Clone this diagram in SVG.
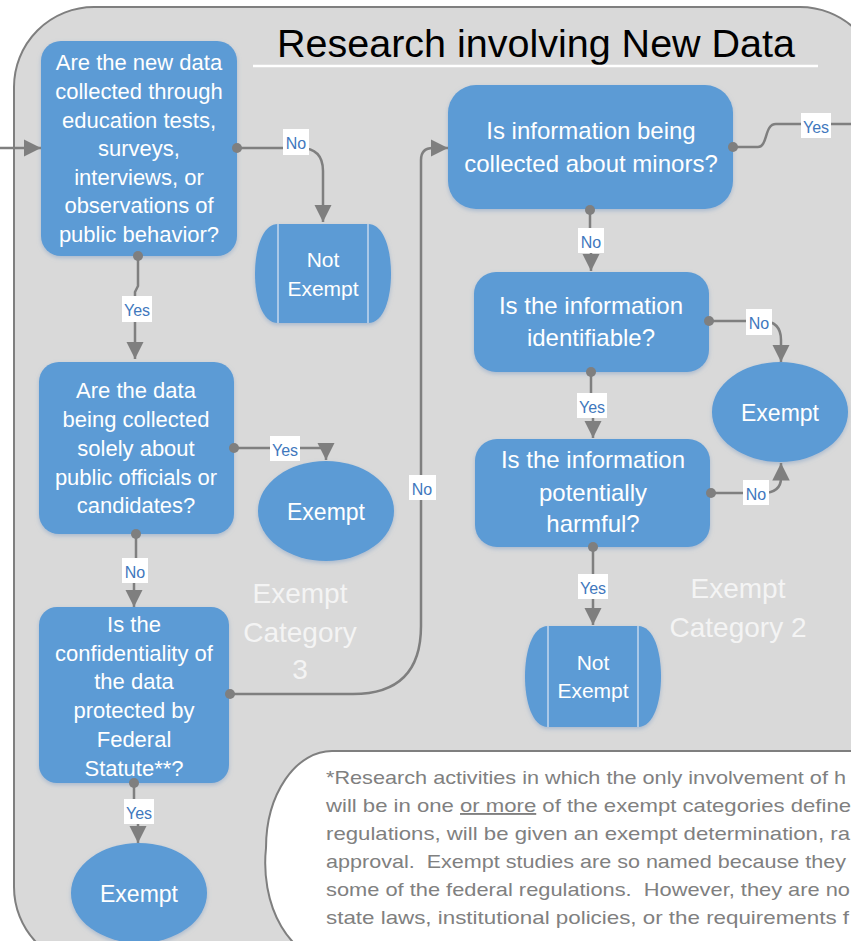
<svg xmlns="http://www.w3.org/2000/svg" width="851" height="941" viewBox="0 0 851 941">
<style>
.node{fill:#5b9bd5;filter:url(#sh)}
.nt{font-family:"Liberation Sans",Arial,sans-serif;fill:#fff;text-anchor:middle}
.conn{fill:none;stroke:#7f7f7f;stroke-width:2.5;marker-end:url(#ah)}
.dot{fill:#7f7f7f}
.lb{fill:#fff}
.lt{font-family:"Liberation Sans",Arial,sans-serif;font-size:16px;fill:#3f78bd;text-anchor:middle}
.cat{font-family:"Liberation Sans",Arial,sans-serif;font-size:28px;fill:#f4f4f4;text-anchor:middle}
.note{font-family:"Liberation Sans",Arial,sans-serif;font-size:19px;fill:#808080}
.vl{stroke:#c5d7ec;stroke-width:1.5}
</style>
<defs>
<marker id="ah" viewBox="0 0 10 10" refX="10" refY="5" markerWidth="7" markerHeight="7" markerUnits="strokeWidth" orient="auto">
<path d="M0,0 L10,5 L0,10 Z" fill="#7f7f7f"/>
</marker>
<filter id="sh" x="-10%" y="-10%" width="120%" height="125%">
<feDropShadow dx="0" dy="2" stdDeviation="2" flood-color="#8aa6c8" flood-opacity="0.6"/>
</filter>
</defs>
<rect width="851" height="941" fill="#fff"/>
<g id="container">
<rect x="14" y="7" width="866" height="960" rx="80" ry="80" fill="#d9d9d9" stroke="#7f7f7f" stroke-width="2"/>
<text x="277" y="57" font-family="Liberation Sans,Arial,sans-serif" font-size="38" fill="#000" textLength="518" lengthAdjust="spacingAndGlyphs">Research involving New Data</text>
<line x1="253" y1="66" x2="818" y2="66" stroke="#fff" stroke-width="2.5"/>
</g>
<g id="q-new-data">
<rect class="node" x="41" y="41" width="196" height="215" rx="20"/>
<text class="nt" font-size="22" x="139"><tspan x="139" y="70">Are the new data</tspan><tspan x="139" y="99">collected through</tspan><tspan x="139" y="128">education tests,</tspan><tspan x="139" y="156">surveys,</tspan><tspan x="139" y="185">interviews, or</tspan><tspan x="139" y="213">observations of</tspan><tspan x="139" y="242">public behavior?</tspan></text>
</g>
<g id="not-exempt-1">
<path class="node" d="M278,224 H368 C384,224 391,250 391,273.5 C391,298 384,323 368,323 H278 C262,323 255,298 255,273.5 C255,250 262,224 278,224 Z"/>
<line class="vl" x1="278" y1="224" x2="278" y2="323"/><line class="vl" x1="368" y1="224" x2="368" y2="323"/>
<text class="nt" font-size="21"><tspan x="323" y="267">Not</tspan><tspan x="323" y="296">Exempt</tspan></text>
</g>
<g id="q-public-officials">
<rect class="node" x="39" y="362" width="195" height="172" rx="20"/>
<text class="nt" font-size="22"><tspan x="136" y="398">Are the data</tspan><tspan x="136" y="427">being collected</tspan><tspan x="136" y="456">solely about</tspan><tspan x="136" y="485">public officials or</tspan><tspan x="136" y="513">candidates?</tspan></text>
</g>
<g id="exempt-1">
<ellipse class="node" cx="326" cy="511" rx="68" ry="50"/>
<text class="nt" font-size="23" x="326" y="520">Exempt</text>
</g>
<g id="cat3">
<text class="cat"><tspan x="300" y="603">Exempt</tspan><tspan x="300" y="642">Category</tspan><tspan x="300" y="679">3</tspan></text>
</g>
<g id="q-confidentiality">
<rect class="node" x="39" y="607" width="190" height="176" rx="18"/>
<text class="nt" font-size="22"><tspan x="134" y="632">Is the</tspan><tspan x="134" y="661">confidentiality of</tspan><tspan x="134" y="689">the data</tspan><tspan x="134" y="718">protected by</tspan><tspan x="134" y="747">Federal</tspan><tspan x="134" y="776">Statute**?</tspan></text>
</g>
<g id="exempt-3">
<ellipse class="node" cx="139" cy="893" rx="68" ry="50"/>
<text class="nt" font-size="23" x="139" y="902">Exempt</text>
</g>
<g id="q-minors">
<rect class="node" x="448" y="85" width="285" height="124" rx="28"/>
<text class="nt" font-size="24"><tspan x="591" y="139">Is information being</tspan><tspan x="591" y="172">collected about minors?</tspan></text>
</g>
<g id="q-identifiable">
<rect class="node" x="474" y="272" width="235" height="100" rx="22"/>
<text class="nt" font-size="24"><tspan x="591" y="314">Is the information</tspan><tspan x="591" y="346">identifiable?</tspan></text>
</g>
<g id="exempt-2">
<ellipse class="node" cx="780" cy="412" rx="68" ry="50"/>
<text class="nt" font-size="23" x="780" y="421">Exempt</text>
</g>
<g id="q-harmful">
<rect class="node" x="475" y="439" width="235" height="108" rx="22"/>
<text class="nt" font-size="24"><tspan x="593" y="468">Is the information</tspan><tspan x="593" y="501">potentially</tspan><tspan x="593" y="532">harmful?</tspan></text>
</g>
<g id="not-exempt-2">
<path class="node" d="M548,626 H638 C654,626 661,652 661,676.5 C661,701 654,727 638,727 H548 C532,727 525,701 525,676.5 C525,652 532,626 548,626 Z"/>
<line class="vl" x1="548" y1="626" x2="548" y2="727"/><line class="vl" x1="638" y1="626" x2="638" y2="727"/>
<text class="nt" font-size="21"><tspan x="593" y="670">Not</tspan><tspan x="593" y="698">Exempt</tspan></text>
</g>
<g id="cat2">
<text class="cat"><tspan x="738" y="598">Exempt</tspan><tspan x="738" y="637">Category 2</tspan></text>
</g>
<g id="note">
<path d="M332,751 H900 V960 H332 A66,97 0 0 1 266,848 A66,97 0 0 1 332,751 Z" fill="#fff" stroke="#7f7f7f" stroke-width="2"/>
<text class="note" x="326" y="784" textLength="520" lengthAdjust="spacingAndGlyphs">*Research activities in which the only involvement of h</text>
<text class="note" x="326" y="812" textLength="525" lengthAdjust="spacingAndGlyphs">will be in one <tspan text-decoration="underline">or more</tspan> of the exempt categories define</text>
<text class="note" x="326" y="840" textLength="524" lengthAdjust="spacingAndGlyphs">regulations, will be given an exempt determination, ra</text>
<text class="note" x="326" y="868" textLength="520" lengthAdjust="spacingAndGlyphs">approval.&#160; Exempt studies are so named because they</text>
<text class="note" x="326" y="896" textLength="524" lengthAdjust="spacingAndGlyphs">some of the federal regulations.&#160; However, they are no</text>
<text class="note" x="326" y="924" textLength="523" lengthAdjust="spacingAndGlyphs">state laws, institutional policies, or the requirements f</text>
</g>
<g id="connectors">
<path class="conn" d="M0,148 H41"/>
<path class="conn" d="M237,148 H300 Q323,148 323,171 V222"/>
<path class="conn" d="M138,256 V286 L135,292 V359"/>
<path class="conn" d="M234,448 H326 V460"/>
<path class="conn" d="M136,534 V560 L134,565 V607"/>
<path class="conn" d="M230,694 H353 Q421,694 421,626 V160 Q421,148 433,148 H448"/>
<path class="conn" d="M134,783 V805 L138,812 V843"/>
<path class="conn" style="marker-end:none" d="M733,147 H758 C768,147 764,124 776,124 H851"/>
<path class="conn" d="M590,210 V240 L591,245 V271"/>
<path class="conn" d="M709,321 H762 Q781,321 781,340 V362"/>
<path class="conn" d="M591,372 V400 L593,405 V438"/>
<path class="conn" d="M711,493 H762 Q781,493 781,478 V463"/>
<path class="conn" d="M593,547 V625"/>
<circle class="dot" cx="237" cy="148" r="5"/>
<circle class="dot" cx="138" cy="256" r="5"/>
<circle class="dot" cx="234" cy="448" r="5"/>
<circle class="dot" cx="136" cy="534" r="5"/>
<circle class="dot" cx="230" cy="694" r="5"/>
<circle class="dot" cx="134" cy="783" r="5"/>
<circle class="dot" cx="733" cy="147" r="5"/>
<circle class="dot" cx="590" cy="210" r="5"/>
<circle class="dot" cx="709" cy="321" r="5"/>
<circle class="dot" cx="591" cy="372" r="5"/>
<circle class="dot" cx="711" cy="493" r="5"/>
<circle class="dot" cx="593" cy="547" r="5"/>
<rect class="lb" x="283" y="129" width="26" height="26"/><text class="lt" x="296" y="149">No</text>
<rect class="lb" x="122" y="296" width="30" height="26"/><text class="lt" x="137" y="316">Yes</text>
<rect class="lb" x="270" y="436" width="30" height="25"/><text class="lt" x="285" y="456">Yes</text>
<rect class="lb" x="122" y="558" width="26" height="25"/><text class="lt" x="135" y="578">No</text>
<rect class="lb" x="409" y="475" width="27" height="25"/><text class="lt" x="422" y="495">No</text>
<rect class="lb" x="124" y="799" width="30" height="25"/><text class="lt" x="139" y="819">Yes</text>
<rect class="lb" x="801" y="113" width="30" height="25"/><text class="lt" x="816" y="133">Yes</text>
<rect class="lb" x="578" y="228" width="26" height="25"/><text class="lt" x="591" y="248">No</text>
<rect class="lb" x="746" y="309" width="26" height="26"/><text class="lt" x="759" y="329">No</text>
<rect class="lb" x="577" y="393" width="30" height="25"/><text class="lt" x="592" y="413">Yes</text>
<rect class="lb" x="743" y="480" width="26" height="25"/><text class="lt" x="756" y="500">No</text>
<rect class="lb" x="578" y="574" width="30" height="25"/><text class="lt" x="593" y="594">Yes</text>
</g>
</svg>
